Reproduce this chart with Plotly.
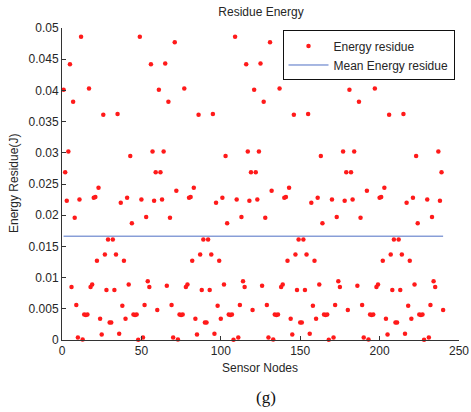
import numpy as np
import plotly.graph_objects as go

# ---- data ----
group1 = [0.0401, 0.0269, 0.0223, 0.0302, 0.0442, 0.0085, 0.0382, 0.0196, 0.0056, 0.0004,
          0.0225, 0.0486, 0.0001, 0.0041, 0.0040, 0.0041, 0.0403, 0.0085, 0.0089, 0.0228,
          0.0229, 0.0127, 0.0244, 0.0034, 0.0009, 0.0361, 0.0137, 0.0080, 0.0161, 0.0028,
          0.0028, 0.0161, 0.0080, 0.0137, 0.0362, 0.0010, 0.0220, 0.0055, 0.0127, 0.0034,
          0.0228, 0.0089, 0.0295, 0.0187, 0.0041, 0.0040, 0.0041, 0.00005, 0.0486, 0.0225,
          0.0004, 0.0056, 0.0197, 0.0094, 0.0085, 0.0442, 0.0302, 0.0223, 0.0269, 0.0048]
group2 = [0.0401, 0.0269, 0.0225, 0.0302, 0.0443, 0.0087, 0.0382, 0.0196, 0.0056, 0.0004,
          0.0477, 0.0239, 0.0001, 0.0041, 0.0040, 0.0041, 0.0403, 0.0085, 0.0089, 0.0228,
          0.0229, 0.0127, 0.0244, 0.0034, 0.0009, 0.0361, 0.0137, 0.0080, 0.0161, 0.0028,
          0.0028, 0.0161, 0.0080, 0.0137, 0.0362, 0.0010, 0.0220, 0.0055, 0.0127, 0.0034,
          0.0228, 0.0089, 0.0295, 0.0187, 0.0041, 0.0040, 0.0041, 0.00005, 0.0486, 0.0225,
          0.0004, 0.0056, 0.0197, 0.0094, 0.0085, 0.0442, 0.0302, 0.0223, 0.0269, 0.0048]
group3 = [0.0401, 0.0269, 0.0225, 0.0302, 0.0443, 0.0087, 0.0382, 0.0196, 0.0056, 0.0004,
          0.0477, 0.0239, 0.0001, 0.0041, 0.0040, 0.0041, 0.0403, 0.0085, 0.0089, 0.0228,
          0.0229, 0.0127, 0.0244, 0.0034, 0.0009, 0.0361, 0.0137, 0.0080, 0.0161, 0.0028,
          0.0028, 0.0161, 0.0080, 0.0137, 0.0362, 0.0010, 0.0220, 0.0055, 0.0127, 0.0034,
          0.0228, 0.0089, 0.0295, 0.0187, 0.0041, 0.0040, 0.0041, 0.00005, 0.0486, 0.0225,
          0.0004, 0.0056, 0.0197, 0.0094, 0.0085, 0.0442, 0.0302, 0.0223, 0.0269, 0.0048]
group4 = [0.0401, 0.0269, 0.0225, 0.0302, 0.0443, 0.0087, 0.0382, 0.0196, 0.0056, 0.0004,
          0.0477, 0.0239, 0.0001, 0.0041, 0.0040, 0.0041, 0.0403, 0.0085, 0.0089, 0.0228,
          0.0229, 0.0127, 0.0244, 0.0034, 0.0009, 0.0361, 0.0137, 0.0080, 0.0161, 0.0028,
          0.0028, 0.0161, 0.0080, 0.0137, 0.0362, 0.0010, 0.0220, 0.0055, 0.0127, 0.0034,
          0.0228, 0.0089, 0.0295, 0.0187, 0.0041, 0.0040, 0.0041, 0.00005, 0.0486, 0.0225,
          0.0004, 0.0056, 0.0197, 0.0094, 0.0085, 0.0442, 0.0302, 0.0223, 0.0269, 0.0048]

energy = group1 + group2 + group3 + group4
nodes = list(range(1, len(energy) + 1))
mean_energy = float(np.mean(energy))

x_tickvals = [0, 50, 100, 150, 200, 250]
y_tickvals = [0, 0.005, 0.01, 0.015, 0.02, 0.025, 0.03, 0.035, 0.04, 0.045, 0.05]
y_ticktext = ["0", "0.005", "0.01", "0.015", "0.02", "0.025", "0.03", "0.035", "0.04", "0.045", "0.05"]

FONT = "Liberation Sans, Arial, sans-serif"
TXT = "#262626"

L, R, T, B = 62, 12, 28, 72
W, H = 471, 412
PW, PH = W - L - R, H - T - B

fig = go.Figure()
fig.add_trace(go.Scatter(
    x=nodes, y=energy, mode="markers", name="Energy residue",
    marker=dict(color="#ff1a1a", size=4.5, line=dict(width=0)),
    cliponaxis=False,
))
fig.add_trace(go.Scatter(
    x=[nodes[0], nodes[-1]], y=[mean_energy, mean_energy], mode="lines",
    name="Mean Energy residue", line=dict(color="#4f6fc4", width=1),
))

fig.update_layout(
    width=W, height=H,
    margin=dict(l=L, r=R, t=T, b=B, autoexpand=False),
    paper_bgcolor="white", plot_bgcolor="white",
    font=dict(family=FONT, size=12, color=TXT),
    showlegend=True,
    legend=dict(
        x=(282.5 - L) / PW, y=0.992, xanchor="left", yanchor="top",
        bgcolor="white", bordercolor="#111", borderwidth=1,
        font=dict(family=FONT, size=12, color=TXT),
        itemwidth=40, tracegroupgap=0,
    ),
    title=dict(text="Residue Energy", x=261 / W, xanchor="center",
               y=1 - 12 / H, yanchor="middle", yref="container",
               font=dict(family=FONT, size=12, color=TXT)),
    xaxis=dict(range=[0, 250], tickvals=x_tickvals, ticks="inside", ticklen=4,
               tickcolor="#333", showline=True, linecolor="#333", linewidth=1,
               showgrid=False, zeroline=False, ticklabeloverflow="allow",
               automargin=False, tickfont=dict(size=12, color=TXT)),
    yaxis=dict(range=[0, 0.05], tickvals=y_tickvals, ticktext=y_ticktext,
               ticks="inside", ticklen=4, tickcolor="#333", showline=True,
               linecolor="#333", linewidth=1, showgrid=False, zeroline=False,
               ticklabeloverflow="allow", automargin=False,
               tickfont=dict(size=12, color=TXT)),
    annotations=[
        dict(text="Sensor Nodes", xref="paper", yref="paper", x=(260 - L) / PW,
             y=(340 - 368) / PH, showarrow=False, xanchor="center", yanchor="middle",
             font=dict(family=FONT, size=12, color=TXT)),
        dict(text="Energy Residue(J)", xref="paper", yref="paper", x=(14 - L) / PW,
             y=0.5, textangle=-90, showarrow=False, xanchor="center", yanchor="middle",
             font=dict(family=FONT, size=12, color=TXT)),
        dict(text="(g)", xref="paper", yref="paper", x=(266 - L) / PW, y=(340 - 397) / PH,
             showarrow=False, xanchor="center", yanchor="middle",
             font=dict(family="Liberation Serif, Times New Roman, serif", size=17, color="#111")),
    ],
)

fig.write_html("out.html")
